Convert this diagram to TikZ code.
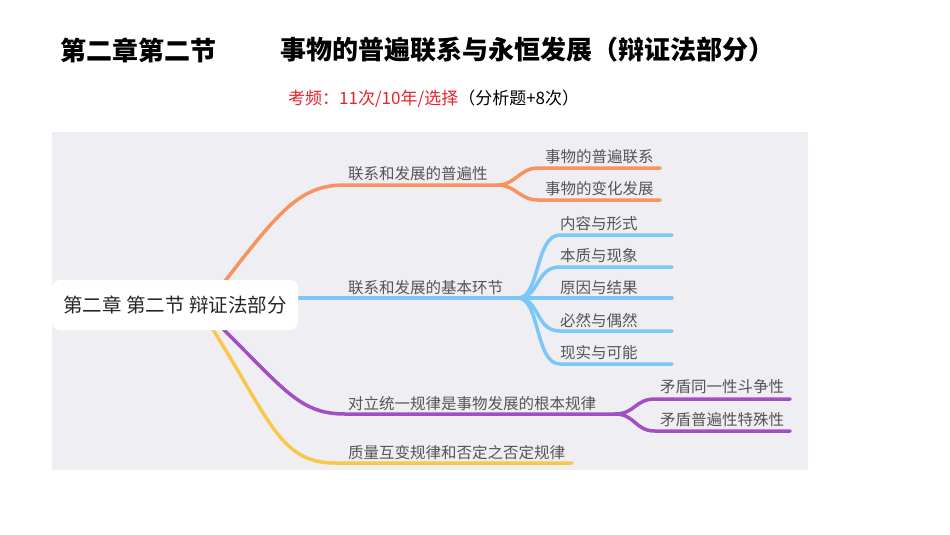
\documentclass[tikz,border=0pt]{standalone}
\usepackage{fontspec}
\setmainfont{Noto Sans CJK SC}
\definecolor{panel}{HTML}{EFEEF3}
\definecolor{oran}{HTML}{F6935E}
\definecolor{blu}{HTML}{7CC6F8}
\definecolor{purp}{HTML}{A34FC4}
\definecolor{yel}{HTML}{F9C84A}
\definecolor{lab}{HTML}{555555}
\definecolor{tred}{HTML}{E8222A}
\begin{document}
\begin{tikzpicture}[x=1pt,y=-1pt,
  br/.style={line width=3.5pt,line cap=round},
  lb/.style={anchor=south west,inner sep=0pt,font=\fontsize{15.5}{15.5}\selectfont,text=lab}]
\useasboundingbox[fill=white] (0,0) rectangle (950,535);
\fill[panel] (52,132) rectangle (808,470);
% title
\node[anchor=west,inner sep=0pt,font=\fontsize{26}{26}\selectfont\bfseries] (t1) at (60,50) {第二章第二节};
\node[anchor=west,inner sep=0pt,font=\fontsize{26}{26}\selectfont\bfseries] (t2) at (280,50) {事物的普遍联系与永恒发展（辩证法部分）};
\node[anchor=west,inner sep=0pt,font=\fontsize{17}{17}\selectfont] (t3) at (288,99) {\textcolor{tred}{考频：11次/10年/选择}（分析题+8次）};
% coordinates
\coordinate (oA) at (222,285); \coordinate (oB) at (345,185); \coordinate (oC) at (498,185);
\coordinate (o1) at (538,168); \coordinate (o1e) at (660,168);
\coordinate (o2) at (538,200); \coordinate (o2e) at (660,200);
\coordinate (bA) at (296,298); \coordinate (bC) at (518,298);
\coordinate (pA) at (222,328); \coordinate (pB) at (345,414); \coordinate (pC) at (615,414);
\coordinate (p1) at (655,399); \coordinate (p1e) at (790,399);
\coordinate (p2) at (655,431); \coordinate (p2e) at (790,431);
\coordinate (yA) at (212,328); \coordinate (yB) at (335,463); \coordinate (yC) at (572,463);
% orange
\draw[br,oran] (oA) .. controls (280,210) and (300,185) .. (oB) -- (oC);
\draw[br,oran] (oC) .. controls (515,185) and (520,168) .. (o1) -- (o1e);
\draw[br,oran] (oC) .. controls (515,185) and (520,200) .. (o2) -- (o2e);
% blue
\draw[br,blu] (bA) -- (bC);
\foreach \yy/\nm in {235/b1,267/b2,298/b3,331/b4,364/b5}{
  \coordinate (\nm) at (560,\yy); \coordinate (\nm e) at (672,\yy);
  \draw[br,blu] (bC) .. controls (540,298) and (535,\yy) .. (\nm) -- (\nm e);
}
% purple
\draw[br,purp] (pA) .. controls (285,390) and (300,414) .. (pB) -- (pC);
\draw[br,purp] (pC) .. controls (635,414) and (635,399) .. (p1) -- (p1e);
\draw[br,purp] (pC) .. controls (635,414) and (635,431) .. (p2) -- (p2e);
% yellow
\draw[br,yel] (yA) .. controls (270,420) and (280,463) .. (yB) -- (yC);
% root
\node[fill=white,rounded corners=8pt,minimum width=246pt,minimum height=50pt,inner sep=0pt,font=\fontsize{19.5}{19.5}\selectfont,text=black!85] (root) at (175,305) {第二章\ 第二节\ 辩证法部分};
% labels
\node[lb] (l1) at (348,181) {联系和发展的普遍性};
\node[lb] (l11) at (545,164) {事物的普遍联系};
\node[lb] (l12) at (545,196) {事物的变化发展};
\node[lb] (l2) at (348,295) {联系和发展的基本环节};
\node[lb] (l21) at (560,231) {内容与形式};
\node[lb] (l22) at (560,263) {本质与现象};
\node[lb] (l23) at (560,295) {原因与结果};
\node[lb] (l24) at (560,328) {必然与偶然};
\node[lb] (l25) at (560,360) {现实与可能};
\node[lb] (l3) at (348,411) {对立统一规律是事物发展的根本规律};
\node[lb] (l31) at (660,394) {矛盾同一性斗争性};
\node[lb] (l32) at (660,427) {矛盾普遍性特殊性};
\node[lb] (l4) at (348,460) {质量互变规律和否定之否定规律};
\end{tikzpicture}
\end{document}
